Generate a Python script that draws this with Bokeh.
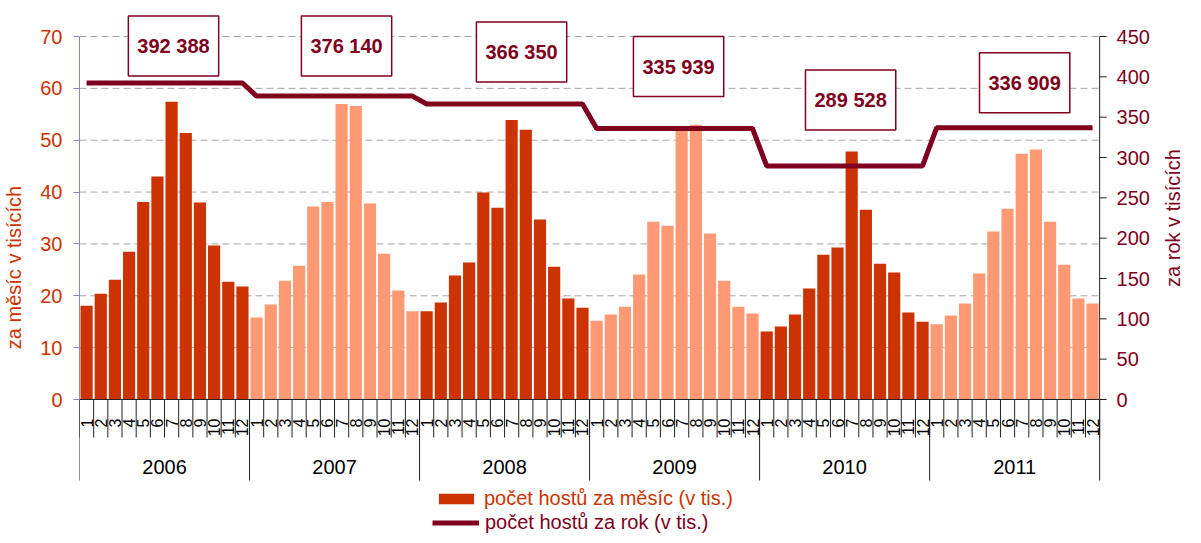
import math
from bokeh.plotting import figure
from bokeh.models import (Range1d, LinearAxis, FixedTicker, Label, Legend, LegendItem,
                          ColumnDataSource)
from bokeh.core.properties import value
from bokeh.embed import file_html
from bokeh.resources import INLINE

# ---------------- data ----------------
years = ["2006", "2007", "2008", "2009", "2010", "2011"]
months = ["1", "2", "3", "4", "5", "6", "7", "8", "9", "10", "11", "12"]

guests_2006 = [18.1, 20.4, 23.1, 28.5, 38.1, 43.0, 57.4, 51.4, 38.0, 29.7, 22.7, 21.8]
guests_2007 = [15.8, 18.3, 22.9, 25.8, 37.2, 38.1, 57.0, 56.6, 37.8, 28.1, 21.0, 17.0]
guests_2008 = [17.0, 18.7, 23.9, 26.4, 39.9, 37.0, 53.9, 52.0, 34.7, 25.6, 19.5, 17.7]
guests_2009 = [15.2, 16.4, 17.9, 24.1, 34.3, 33.5, 52.5, 53.0, 32.0, 22.9, 17.9, 16.6]
guests_2010 = [13.1, 14.1, 16.4, 21.4, 27.9, 29.3, 47.8, 36.6, 26.2, 24.5, 16.8, 15.0]
guests_2011 = [14.5, 16.2, 18.5, 24.3, 32.4, 36.8, 47.4, 48.2, 34.3, 26.0, 19.5, 18.5]

annual_totals = [392.388, 376.140, 366.350, 335.939, 289.528, 336.909]
annual_labels = ["392 388", "376 140", "366 350", "335 939", "289 528", "336 909"]

left_ticks = [0, 10, 20, 30, 40, 50, 60, 70]
right_ticks = [0, 50, 100, 150, 200, 250, 300, 350, 400, 450]
right_tick_labels = ["0", "50", "100", "150", "200", "250", "300", "350", "400", "450"]

monthly = [guests_2006, guests_2007, guests_2008, guests_2009, guests_2010, guests_2011]

# ---------------- styles / layout ----------------
FONT = "Liberation Sans"
DARK = "#CC3300"
LIGHT = "#FF9973"
LINE = "#800020"
AXIS_BLUE = "#8888CC"
AXIS_DARK = "#222222"
GRID = "#A6A6A6"

W, H = 1185, 534
BORDER_L = 77
TOP_PX = 36            # space above the value area (inside the frame)
PLOT_PX = 363          # height of the value area
PLOT_W = 1022          # width of the bar area
BELOW_PX = H - TOP_PX - PLOT_PX
FRAME_W = W - BORDER_L

LEFT_MAX, RIGHT_MAX = 70, 450

# label box offsets (screen px) relative to year centre / annual value
label_dx = [9, 12, 17, 4, 6, 10]
label_dy = [37, 50, 52, 62, 66, 45]

n_years = len(years)
n_months = len(months)
n_total = n_years * n_months
xs, vals, cols, annual_vals, month_labels = [], [], [], [], []
for yi in range(n_years):
    for mi in range(n_months):
        xs.append(yi * n_months + mi + 1)
        vals.append(monthly[yi][mi])
        cols.append(DARK if yi % 2 == 0 else LIGHT)
        annual_vals.append(annual_totals[yi])
        month_labels.append(months[mi])

src = ColumnDataSource(dict(x=xs, v=vals, c=cols, a=annual_vals))

x0, x1 = 0.5, n_total + 0.5
DX = (x1 - x0) / PLOT_W   # data units per px along x

p = figure(width=W, height=H, output_backend="svg", toolbar_location=None,
           x_range=Range1d(x0, x0 + FRAME_W * DX),
           y_range=Range1d(-LEFT_MAX * BELOW_PX / PLOT_PX, LEFT_MAX * (PLOT_PX + TOP_PX) / PLOT_PX),
           x_axis_type=None, y_axis_type=None,
           min_border_left=BORDER_L, min_border_right=0,
           min_border_top=0, min_border_bottom=0)
p.outline_line_color = None
p.extra_y_ranges = {"year": Range1d(-RIGHT_MAX * BELOW_PX / PLOT_PX, RIGHT_MAX * (PLOT_PX + TOP_PX) / PLOT_PX),
                    "px": Range1d(-BELOW_PX, PLOT_PX + TOP_PX)}

# grid (dashed)
grid_ticks = left_ticks[1:]
p.segment(x0=[x0] * len(grid_ticks), y0=grid_ticks, x1=[x1] * len(grid_ticks), y1=grid_ticks,
          line_color=GRID, line_dash="7 4", line_width=1)

r_bar = p.vbar(x="x", top="v", width=0.86, source=src, fill_color="c", line_color=None)
r_line = p.line(x="x", y="a", source=src, y_range_name="year", line_color=LINE, line_width=5)

# left axis
la = LinearAxis(bounds=(0, LEFT_MAX), ticker=FixedTicker(ticks=left_ticks),
                axis_line_color=AXIS_BLUE, major_tick_line_color=AXIS_BLUE,
                major_tick_out=6, major_tick_in=0, minor_tick_line_color=None,
                major_label_text_color=DARK, major_label_text_font=FONT,
                major_label_text_font_size="20px", major_label_standoff=11,
                axis_label="za měsíc v tisících", axis_label_text_color=DARK,
                axis_label_text_font=FONT, axis_label_text_font_size="20px",
                axis_label_text_font_style="normal", axis_label_standoff=12)
p.add_layout(la, "left")

# right axis, drawn in the frame
p.segment(x0=[x1], y0=[0], x1=[x1], y1=[RIGHT_MAX], y_range_name="year",
          line_color=AXIS_DARK, line_width=1)
p.segment(x0=[x1] * len(right_ticks), y0=right_ticks, x1=[x1 + 7 * DX] * len(right_ticks), y1=right_ticks,
          y_range_name="year", line_color=AXIS_DARK, line_width=1)
p.text(x=[x1 + 17 * DX] * len(right_ticks), y=right_ticks, text=right_tick_labels, y_range_name="year",
       text_align="left", text_baseline="middle",
       text_font=value(FONT), text_font_size="20px", text_color=LINE)
p.text(x=[x1 + 73 * DX], y=[RIGHT_MAX / 2], text=["za rok v tisících"], y_range_name="year",
       angle=math.pi / 2, text_align="center", text_baseline="middle",
       text_font=value(FONT), text_font_size="20px", text_color=LINE)

# category axis drawn inside the frame, under the value area (px range)
month_bounds = [i + 0.5 for i in range(n_total + 1)]
year_bounds = [yi * n_months + 0.5 for yi in range(n_years + 1)]
year_centers = [yi * n_months + 6.5 for yi in range(n_years)]

p.segment(x0=[x0], y0=[0], x1=[x1], y1=[0], y_range_name="px", line_color=AXIS_DARK, line_width=1)
p.segment(x0=month_bounds, y0=[0] * len(month_bounds), x1=month_bounds,
          y1=[-38] * len(month_bounds), y_range_name="px", line_color=AXIS_DARK, line_width=1)
p.segment(x0=year_bounds, y0=[0] * len(year_bounds), x1=year_bounds,
          y1=[-81] * len(year_bounds), y_range_name="px", line_color=AXIS_DARK, line_width=1)
p.text(x=xs, y=[-19] * len(xs), text=month_labels, y_range_name="px",
       angle=math.pi / 2, text_align="right", text_baseline="middle",
       text_font=value(FONT), text_font_size="16px", text_color="black")
p.text(x=year_centers, y=[-67] * len(year_centers), text=years, y_range_name="px",
       text_align="center", text_baseline="middle",
       text_font=value(FONT), text_font_size="20px", text_color="black")

# annual labels
for yi in range(n_years):
    p.add_layout(Label(x=year_centers[yi], y=annual_totals[yi], y_range_name="year",
                       x_offset=label_dx[yi], y_offset=label_dy[yi],
                       text=annual_labels[yi], text_align="center", text_baseline="middle",
                       text_font=FONT, text_font_size="20px", text_font_style="bold",
                       text_color=LINE, background_fill_color="white",
                       border_line_color=LINE, border_line_width=1.5,
                       padding=(9, 19)))

# legends
leg1 = Legend(items=[LegendItem(label="počet hostů za měsíc (v tis.)", renderers=[r_bar], index=0)],
              location=(355, 24), label_text_color=DARK, label_text_font=FONT,
              label_text_font_size="20px", glyph_width=44, glyph_height=13,
              padding=0, margin=0, spacing=0, border_line_color=None,
              background_fill_alpha=0, label_standoff=6)
leg2 = Legend(items=[LegendItem(label="počet hostů za rok (v tis.)", renderers=[r_line])],
              location=(353, 0), label_text_color=LINE, label_text_font=FONT,
              label_text_font_size="20px", glyph_width=47, glyph_height=13,
              padding=0, margin=0, spacing=0, border_line_color=None,
              background_fill_alpha=0, label_standoff=6)
p.add_layout(leg1, "center")
p.add_layout(leg2, "center")

open("out.html", "w").write(file_html(p, INLINE))
